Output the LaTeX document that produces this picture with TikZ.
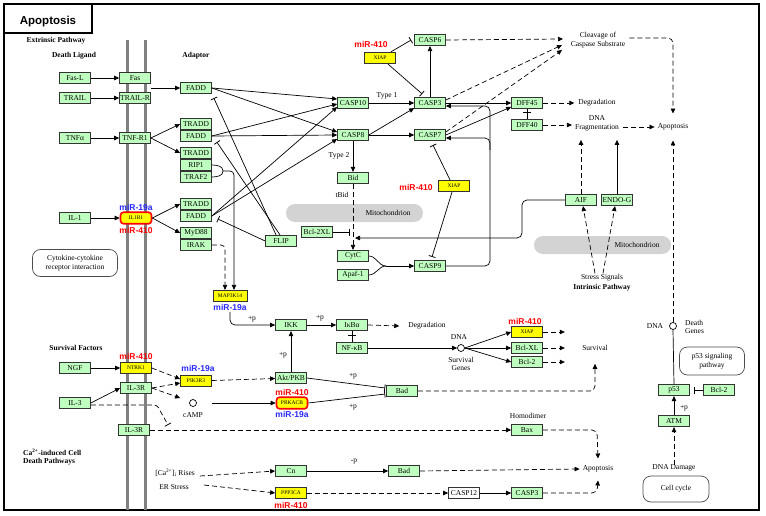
\documentclass[tikz,border=0pt]{standalone}
\usepackage{fontspec}
\setmainfont{Liberation Serif}
\newfontfamily\sansb{Liberation Sans}
\usetikzlibrary{arrows.meta,calc}
\definecolor{kgreen}{RGB}{191,255,191}
\definecolor{kyellow}{RGB}{255,255,0}
\definecolor{mred}{RGB}{255,0,0}
\definecolor{mblue}{RGB}{40,40,255}
\definecolor{mgray}{RGB}{128,128,128}
\definecolor{bandgray}{RGB}{211,211,211}
\tikzset{
 box/.style={draw=black!80, line width=0.7pt, minimum width=31pt, minimum height=11.5pt, inner sep=0pt, font=\fontsize{7.5}{8}\selectfont},
 gbox/.style={box, fill=kgreen},
 ybox/.style={box, fill=kyellow, font=\fontsize{5.5}{6}\selectfont},
 wbox/.style={box, fill=white},
 rbox/.style={box, fill=kyellow, draw=mred, line width=1.6pt, rounded corners=3pt, font=\fontsize{5.5}{6}\selectfont},
 txt/.style={inner sep=0pt, font=\fontsize{7.5}{8.5}\selectfont, align=center},
 btxt/.style={inner sep=0pt, font=\fontsize{7.5}{8.5}\selectfont\bfseries, align=left},
 mr/.style={inner sep=0pt, text=mred, font=\sansb\fontsize{8.5}{9}\selectfont\bfseries},
 mb/.style={mr, text=mblue},
 ln/.style={line width=0.7pt},
 arr/.style={line width=0.7pt, -{Triangle[length=5pt,width=4.5pt]}},
 inh/.style={line width=0.7pt, -{Bar[width=7pt,line width=0.8pt]}},
 dsh/.style={dash pattern=on 5pt off 3pt},
 mapbox/.style={draw=black!70, line width=0.7pt, rounded corners=8pt, inner sep=0pt, font=\fontsize{7.5}{8.5}\selectfont, align=center},
 dot/.style={circle, draw, line width=0.7pt, minimum size=7pt, inner sep=0pt},
}
\begin{document}
\begin{tikzpicture}[x=1pt,y=-1pt]
\useasboundingbox (0,0) rectangle (766,516);
\fill[white] (0,0) rectangle (766,516);
% frame and title
\draw[line width=2.5pt] (4,4) rectangle (759,510);
\draw[line width=2pt] (4,4) rectangle (92,33);
\node[inner sep=0pt, font=\sansb\fontsize{11.5}{12}\selectfont\bfseries] (title) at (48,22) {Apoptosis};
% membrane
\draw[mgray, line width=3pt] (127,40) -- (127,510);
\draw[mgray, line width=3pt] (145,40) -- (145,510);
% mitochondria bands
\fill[bandgray, rounded corners=9pt] (286,204) rectangle (423,222);
\fill[bandgray, rounded corners=9pt] (534,236) rectangle (671,254);
\node[txt] (mito1) at (388,213) {Mitochondrion};
\node[txt] (mito2) at (637,245) {Mitochondrion};
% section labels
\node[btxt] (extr) at (56,41) {Extrinsic Pathway};
\node[btxt] (dlig) at (74,56) {Death Ligand};
\node[btxt] (adap) at (196,56) {Adaptor};
\node[btxt] (survf) at (76,348) {Survival Factors};
\node[btxt, anchor=west] (cai) at (23,457) {Ca\textsuperscript{2+}-induced Cell\\Death Pathways};
\node[btxt, align=center] (intr) at (602,288) {Intrinsic Pathway};
\node[txt] (stress) at (602,278) {Stress Signals};
% ligands and receptors
\node[gbox] (fasl) at (75,78) {Fas-L};
\node[gbox] (fas) at (135,78) {Fas};
\node[gbox] (trail) at (75,98) {TRAIL};
\node[gbox] (trailr) at (135,98) {TRAIL-R};
\node[gbox] (tnfa) at (75,138) {TNFα};
\node[gbox] (tnfr1) at (135,138) {TNF-R1};
\node[gbox] (il1) at (75,218) {IL-1};
\node[rbox] (il1r1) at (136,218) {IL1R1};
\node[mb] (m1) at (136,207) {miR-19a};
\node[mr] (m2) at (136,230) {miR-410};
\node[gbox] (ngf) at (75,368) {NGF};
\node[ybox] (ntrk1) at (136,368) {NTRK1};
\node[mr] (m3) at (136,356) {miR-410};
\node[gbox] (il3r) at (136,388) {IL-3R};
\node[gbox] (il3) at (75,403) {IL-3};
\node[gbox] (il3rb) at (134,430) {IL-3R};
\node[mapbox, minimum width=85pt, minimum height=27pt] (cyto) at (75,263) {Cytokine-cytokine\\receptor interaction};
% adaptors
\node[gbox] (fadd1) at (196,88) {FADD};
\node[gbox] (tradd1) at (196,124) {TRADD};
\node[gbox] (fadd2) at (196,136) {FADD};
\node[gbox] (tradd2) at (196,153) {TRADD};
\node[gbox] (rip1) at (196,165) {RIP1};
\node[gbox] (traf2) at (196,177) {TRAF2};
\node[gbox] (tradd3) at (196,204) {TRADD};
\node[gbox] (fadd3) at (196,216) {FADD};
\node[gbox] (myd88) at (196,233) {MyD88};
\node[gbox] (irak) at (196,245) {IRAK};
\node[ybox, minimum width=34pt] (map3k14) at (230,296) {MAP3K14};
\node[mb] (m4) at (230,307) {miR-19a};
\node[ybox] (pik3r3) at (196,381) {PIK3R3};
\node[mb] (m5) at (198,368) {miR-19a};
\node[dot] (camp) at (193,403) {};
\node[txt] (campl) at (193,415) {cAMP};
% caspases
\node[gbox] (flip) at (281,241) {FLIP};
\node[gbox] (casp10) at (353,103) {CASP10};
\node[gbox] (casp8) at (353,135) {CASP8};
\node[gbox] (bid) at (353,178) {Bid};
\node[gbox] (bcl2xl) at (317,232) {Bcl-2XL};
\node[gbox] (cytc) at (353,256) {CytC};
\node[gbox] (apaf1) at (353,275) {Apaf-1};
\node[gbox] (casp3) at (430,103) {CASP3};
\node[gbox] (casp7) at (430,135) {CASP7};
\node[gbox] (casp6) at (430,40) {CASP6};
\node[ybox] (xiap1) at (380,58) {XIAP};
\node[mr] (m6) at (371,44) {miR-410};
\node[ybox] (xiap2) at (454,186) {XIAP};
\node[mr] (m7) at (416,187) {miR-410};
\node[gbox] (casp9) at (430,266) {CASP9};
\node[gbox] (dff45) at (527,103) {DFF45};
\node[gbox] (dff40) at (527,125) {DFF40};
\node[gbox] (aif) at (581,200) {AIF};
\node[gbox] (endog) at (617,200) {ENDO-G};
\node[txt] (type1) at (387,96) {Type 1};
\node[txt] (type2) at (339,156) {Type 2};
\node[txt] (tbid) at (342,195) {tBid};
\node[txt] (cleav) at (598,40) {Cleavage of\\Caspase Substrate};
\node[txt] (deg1) at (597,103) {Degradation};
\node[txt] (dnafrag) at (597,123.5) {DNA\\Fragmentation};
\node[txt] (apop1) at (673,127) {Apoptosis};
% survival
\node[gbox] (ikk) at (291,325) {IKK};
\node[gbox] (ikba) at (352,325) {IκBα};
\node[gbox] (nfkb) at (352,348) {NF-κB};
\node[txt] (deg2) at (427,326) {Degradation};
\node[gbox] (aktpkb) at (291,378) {Akt/PKB};
\node[mr] (m8) at (292,392) {miR-410};
\node[rbox] (prkacb) at (292,403) {PRKACB};
\node[mb] (m9) at (292,414) {miR-19a};
\node[gbox] (bad1) at (402,391) {Bad};
\node[txt] (dnal) at (459,337) {DNA};
\node[dot] (sg) at (461,348) {};
\node[txt] (sgl) at (461,364) {Survival\\Genes};
\node[ybox] (xiap3) at (527,332) {XIAP};
\node[mr] (m10) at (525,321) {miR-410};
\node[gbox] (bclxl) at (527,348) {Bcl-XL};
\node[gbox] (bcl2a) at (527,362) {Bcl-2};
\node[txt] (surv) at (595,348) {Survival};
\node[txt] (homod) at (528,416) {Homodimer};
\node[gbox] (bax) at (527,430) {Bax};
% Ca pathway
\node[txt] (carises) at (175,473) {[Ca\textsuperscript{2+}]\textsubscript{i} Rises};
\node[txt] (erstress) at (174,487) {ER Stress};
\node[gbox] (cn) at (291,471) {Cn};
\node[gbox] (bad2) at (404,471) {Bad};
\node[ybox] (ppp3ca) at (291,493) {PPP3CA};
\node[mr] (m11) at (291,505) {miR-410};
\node[wbox] (casp12) at (464,493) {CASP12};
\node[gbox] (casp3b) at (527,493) {CASP3};
\node[txt] (apop2) at (598,469) {Apoptosis};
% p53
\node[txt] (dnar) at (655,326) {DNA};
\node[dot] (dg) at (673,326) {};
\node[txt, anchor=west, align=left] (dgl) at (685,327) {Death\\Genes};
\node[mapbox, minimum width=65pt, minimum height=28pt] (p53sig) at (712,361) {p53 signaling\\pathway};
\node[gbox] (p53) at (674,390) {p53};
\node[gbox] (bcl2b) at (719,390) {Bcl-2};
\node[gbox] (atm) at (674,421) {ATM};
\node[txt] (dnadmg) at (674,468) {DNA Damage};
\node[mapbox, minimum width=66pt, minimum height=26pt] (ccyc) at (676,489) {Cell cycle};
% +p labels
\node[txt] (p1) at (252,319) {+p};
\node[txt] (p2) at (320,318) {+p};
\node[txt] (p3) at (283,355) {+p};
\node[txt] (p4) at (353,376) {+p};
\node[txt] (p5) at (353,407) {+p};
\node[txt] (p6) at (684,408) {+p};
\node[txt] (p7) at (354,462) {-p};
% coordinates
\coordinate (rtj) at (223,171);
\coordinate (cj) at (386,266);
\coordinate (m3s) at (230,312);
\coordinate (bidj) at (355,238);
\coordinate (bj) at (350,232);
\coordinate (c9b) at (490,150);
\coordinate (clvA) at (563,39);
\coordinate (clvB) at (562,45);
\coordinate (clvC) at (562,50);
% ---- connectors: receptors
\draw[arr] (fasl) -- (fas);
\draw[arr] (trail) -- (trailr);
\draw[arr] (tnfa) -- (tnfr1);
\draw[arr] (il1) -- (il1r1);
\draw[arr] (ngf) -- (ntrk1);
\draw[arr] (fas.east |- fadd1.west) -- (fadd1.west);
\draw[arr] (tnfr1.east) -- (tradd1.west);
\draw[arr] (tnfr1.east) -- (tradd2.west);
\draw[arr] (il1r1.east) -- (tradd3.west);
\draw[arr] (il1r1.east) -- (myd88.west);
% adaptors to caspases
\draw[arr] (fadd1.east) -- ($(casp10.west)+(0,-4)$);
\draw[arr] (fadd1.east) -- ($(casp8.west)+(0,-3)$);
\draw[arr] (fadd2.east) -- ($(casp10.west)+(0,1)$);
\draw[arr] (fadd2.east) -- (casp8.west);
\draw[arr] (fadd3.east) -- ($(casp10.west)+(0,4)$);
\draw[arr] (fadd3.east) -- ($(casp8.west)+(0,4)$);
% FLIP
\draw[inh] ($(flip.north)+(-5,0)$) -- ($(fadd1.south east)+(2,4)$);
\draw[inh] ($(flip.north)+(-1,0)$) -- ($(fadd2.south east)+(5,0)$);
\draw[inh] (flip.west) -- ($(fadd3.east)+(6,3)$);
% RIP1/TRAF2 and IRAK to MAP3K14
\draw[ln] (rip1.east) to[out=0,in=90] (rtj) to[out=-90,in=0] (traf2.east);
\draw[arr, rounded corners=4] (rtj) -- (234,171) -- ($(map3k14.north)+(4,0)$);
\draw[arr, dsh, rounded corners=4] (irak.east) -- (225,245) -- ($(map3k14.north)+(-5,0)$);
\draw[arr, rounded corners=5] (m3s) -- (230,325) -- (ikk.west);
% caspase cascade
\draw[arr] (casp10) -- (casp3);
\draw[arr] (casp8.east) -- ($(casp3.south west)+(0,-1)$);
\draw[arr] (casp8) -- (casp7);
\draw[arr] (casp8) -- (bid);
\draw[arr] (casp3) -- (casp6);
\draw[inh] ($(xiap1.north east)+(-5,0)$) -- ($(casp6.west)+(-3,0)$);
\draw[inh] ($(xiap1.south)+(8,0)$) -- ($(casp3.north west)+(8,-3)$);
\draw[inh] ($(xiap2.north)+(-4,0)$) -- ($(casp7.south)+(3,4)$);
\draw[inh] ($(xiap2.south)+(-2,0)$) -- ($(casp9.north)+(2,-3)$);
\draw[arr, dsh] (casp6.east) -- (clvA);
\draw[arr, dsh] ($(casp3.east)+(0,-3)$) -- (clvB);
\draw[arr, dsh] ($(casp7.east)+(0,-3)$) -- (clvC);
\draw[arr] (casp3) -- (dff45);
\draw[arr] (casp7.east) -- ($(dff45.west)+(0,4)$);
\draw[ln] (dff45) -- (dff40);
\draw[ln] ($(dff45.south)+(-4,3)$) -- ($(dff45.south)+(4,3)$);
\draw[arr, dsh] (dff45) -- ($(deg1.west)+(-4,0)$);
\draw[arr, dsh] (dff40.east) -- ($(dnafrag.west)+(-3,1.5)$);
\draw[arr, dsh] ($(dnafrag.east)+(4,3.5)$) -- ($(apop1.west)+(-3,0)$);
\draw[arr, dsh, rounded corners=5] ($(cleav.east)+(4,-2)$) -- (673,38) -- ($(apop1.north)+(0,-10)$);
\draw[arr, rounded corners=5] (casp9.east) -- (490,266) -- (490,106) -- ($(casp3.east)+(0,3)$);
\draw[arr, rounded corners=5] (c9b) -- (490,138) -- ($(casp7.east)+(0,3)$);
% mitochondrial
\draw[arr, dsh] (bid.south) -- (cytc.north);
\draw[inh] (bcl2xl.east) -- (bj);
\draw[arr, rounded corners=5] (aif.west) -- (522,200) -- (522,238) -- (bidj);
\draw[ln] (cytc.east) to[out=0,in=180] (cj);
\draw[ln] (apaf1.east) to[out=0,in=180] (cj);
\draw[arr] (cj) -- (casp9.west);
\draw[arr, dsh] ($(stress.north)+(-7,-1)$) -- ($(aif.south)+(2,0)$);
\draw[arr, dsh] ($(stress.north)+(1,-1)$) -- ($(endog.south)+(-2,0)$);
\draw[arr, dsh] (aif.north) -- ($(aif.north)+(0,-54)$);
\draw[arr] (endog.north) -- ($(endog.north)+(0,-54)$);
% NF-kB branch
\draw[arr] (ikk) -- (ikba);
\draw[arr, dsh] (ikba.east) -- ($(deg2.west)+(-9,0)$);
\draw[ln] (ikba) -- (nfkb);
\draw[ln] ($(ikba.south)+(-4,4)$) -- ($(ikba.south)+(4,4)$);
\draw[arr] (nfkb) -- (sg);
\draw[arr] (sg.east) -- (xiap3.west);
\draw[arr] (sg.east) -- (bclxl.west);
\draw[arr] (sg.east) -- (bcl2a.west);
\draw[arr, dsh] (xiap3.east) -- ($(xiap3.east)+(22,0)$);
\draw[arr, dsh] (bclxl.east) -- ($(bclxl.east)+(22,0)$);
\draw[arr, dsh] (bcl2a.east) -- ($(bcl2a.east)+(22,0)$);
% survival factors
\draw[arr] (aktpkb) -- (ikk);
\draw[arr, dsh] (ntrk1.east) -- ($(pik3r3.west)+(0,-2)$);
\draw[arr, dsh] (il3r.east) -- ($(pik3r3.west)+(0,2)$);
\draw[arr, dsh] (il3r.east) -- ($(camp.west)+(-9,-5)$);
\draw[arr] (il3.east) -- (il3r.west);
\draw[inh, dsh, rounded corners=3] ($(il3.east)+(0,2)$) -- (157,405) -- (168,425);
\draw[arr, dsh] (pik3r3) -- (aktpkb);
\draw[arr] ($(camp.east)+(15,0)$) -- (prkacb.west);
\draw[inh] (aktpkb.east) -- ($(bad1.west)+(-1,-3)$);
\draw[inh] (prkacb.east) -- ($(bad1.west)+(-1,3)$);
\draw[arr, dsh, rounded corners=5] (bad1.east) -- (595,391) -- ($(surv.south)+(0,13)$);
\draw[arr, dsh] (il3rb) -- (bax);
\draw[arr, dsh, rounded corners=5] (bax.east) -- (597,430) -- ($(apop2.north)+(0,-7)$);
% Ca branch
\draw[arr, dsh] ($(carises.east)+(5,3)$) -- (cn.west);
\draw[arr, dsh] ($(erstress.east)+(15,-2)$) -- (ppp3ca.west);
\draw[arr] (cn) -- (bad2);
\draw[arr, dsh] (bad2.east) -- ($(apop2.west)+(-3,0)$);
\draw[arr, dsh] (ppp3ca) -- (casp12);
\draw[arr] (casp12) -- (casp3b);
\draw[arr, dsh, rounded corners=5] (casp3b.east) -- (597,493) -- ($(apop2.south)+(0,8)$);
% p53
\draw[arr] (atm) -- (p53);
\draw[inh] (bcl2b.west) -- ($(p53.east)+(4,0)$);
\draw[ln] (p53.north) -- (dg.south);
\draw[arr, dsh] (dg.north) -- ($(apop1.south)+(0,10)$);
\draw[arr, dsh] (dnadmg.north) -- (atm.south);
\end{tikzpicture}
\end{document}
